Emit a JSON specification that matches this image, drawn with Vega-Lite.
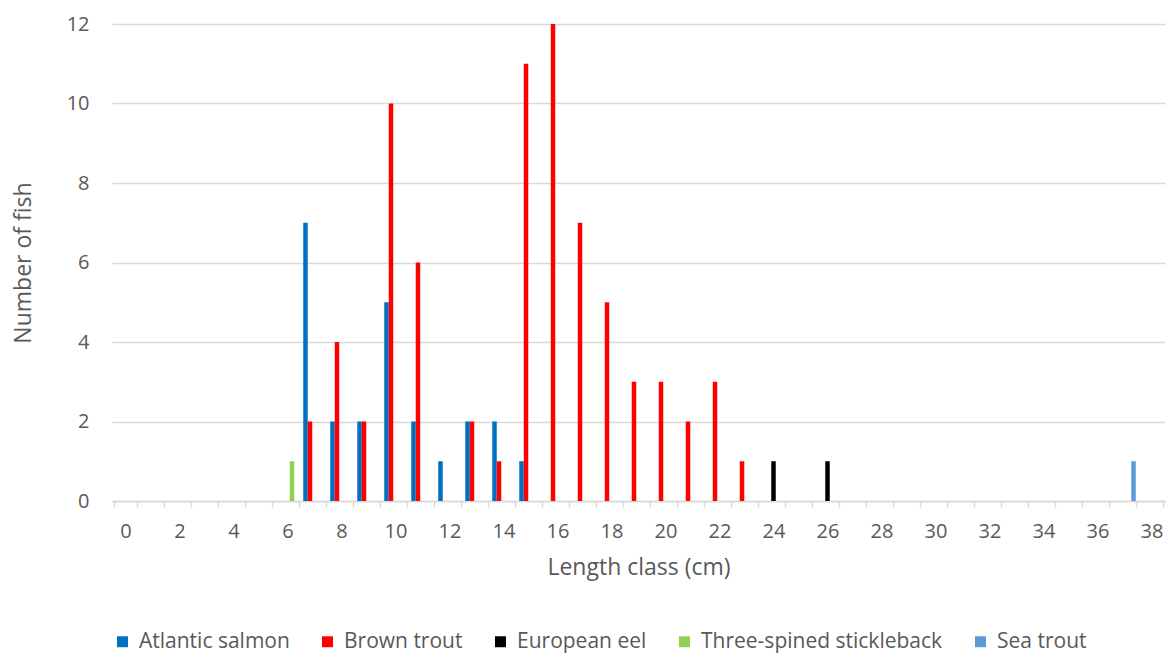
{
  "$schema": "https://vega.github.io/schema/vega-lite/v6.json",
  "width": 1053,
  "height": 477,
  "autosize": {"type": "none"},
  "padding": {"left": 112, "top": 24, "right": 1, "bottom": 152},
  "background": "white",
  "config": {
    "view": {"stroke": null},
    "font": "Open Sans",
    "axis": {"labelColor": "#595959", "titleColor": "#595959", "labelFont": "Open Sans", "titleFont": "Open Sans", "titleFontWeight": "normal"},
    "legend": {"labelFont": "Open Sans"}
  },
  "data": {
    "values": [
      {"length": 7, "species": "Atlantic salmon", "count": 7},
      {"length": 8, "species": "Atlantic salmon", "count": 2},
      {"length": 9, "species": "Atlantic salmon", "count": 2},
      {"length": 10, "species": "Atlantic salmon", "count": 5},
      {"length": 11, "species": "Atlantic salmon", "count": 2},
      {"length": 12, "species": "Atlantic salmon", "count": 1},
      {"length": 13, "species": "Atlantic salmon", "count": 2},
      {"length": 14, "species": "Atlantic salmon", "count": 2},
      {"length": 15, "species": "Atlantic salmon", "count": 1},
      {"length": 7, "species": "Brown trout", "count": 2},
      {"length": 8, "species": "Brown trout", "count": 4},
      {"length": 9, "species": "Brown trout", "count": 2},
      {"length": 10, "species": "Brown trout", "count": 10},
      {"length": 11, "species": "Brown trout", "count": 6},
      {"length": 13, "species": "Brown trout", "count": 2},
      {"length": 14, "species": "Brown trout", "count": 1},
      {"length": 15, "species": "Brown trout", "count": 11},
      {"length": 16, "species": "Brown trout", "count": 12},
      {"length": 17, "species": "Brown trout", "count": 7},
      {"length": 18, "species": "Brown trout", "count": 5},
      {"length": 19, "species": "Brown trout", "count": 3},
      {"length": 20, "species": "Brown trout", "count": 3},
      {"length": 21, "species": "Brown trout", "count": 2},
      {"length": 22, "species": "Brown trout", "count": 3},
      {"length": 23, "species": "Brown trout", "count": 1},
      {"length": 24, "species": "European eel", "count": 1},
      {"length": 26, "species": "European eel", "count": 1},
      {"length": 6, "species": "Three-spined stickleback", "count": 1},
      {"length": 37, "species": "Sea trout", "count": 1}
    ]
  },
  "mark": {"type": "bar"},
  "encoding": {
    "x": {
      "field": "length",
      "type": "ordinal",
      "scale": {"domain": [0,1,2,3,4,5,6,7,8,9,10,11,12,13,14,15,16,17,18,19,20,21,22,23,24,25,26,27,28,29,30,31,32,33,34,35,36,37,38], "paddingInner": 0.167, "paddingOuter": 0.083},
      "axis": {
        "title": "Length class (cm)",
        "titleFontSize": 23,
        "titlePadding": 15,
        "labelFontSize": 20,
        "labelAngle": 0,
        "labelPadding": 14,
        "labelExpr": "datum.value % 2 == 0 ? datum.label : ''",
        "tickBand": "extent",
        "tickColor": "#d9d9d9",
        "tickSize": 6,
        "tickWidth": 1.5,
        "domainColor": "#d9d9d9",
        "domainWidth": 1.5,
        "grid": false
      }
    },
    "xOffset": {
      "field": "species",
      "type": "nominal",
      "scale": {"domain": ["Atlantic salmon", "Brown trout", "European eel", "Three-spined stickleback", "Sea trout"], "paddingInner": 0, "paddingOuter": 0}
    },
    "y": {
      "field": "count",
      "type": "quantitative",
      "scale": {"domain": [0, 12]},
      "axis": {
        "title": "Number of fish",
        "titleFontSize": 23,
        "titlePadding": 31,
        "labelFontSize": 20,
        "labelPadding": 23,
        "values": [0, 2, 4, 6, 8, 10, 12],
        "domain": false,
        "ticks": false,
        "gridColor": "#d9d9d9",
        "gridWidth": 1.5
      }
    },
    "color": {
      "field": "species",
      "type": "nominal",
      "scale": {"domain": ["Atlantic salmon", "Brown trout", "European eel", "Three-spined stickleback", "Sea trout"], "range": ["#0070C0", "#FF0000", "#000000", "#92D050", "#5B9BD5"]},
      "legend": {
        "title": null,
        "orient": "bottom",
        "direction": "horizontal",
        "symbolType": "square",
        "symbolSize": 120,
        "symbolStrokeWidth": 0,
        "labelFontSize": 21,
        "labelColor": "#595959",
        "labelLimit": 400,
        "labelOffset": 6,
        "columnPadding": 27,
        "offset": 52
      }
    }
  }
}
